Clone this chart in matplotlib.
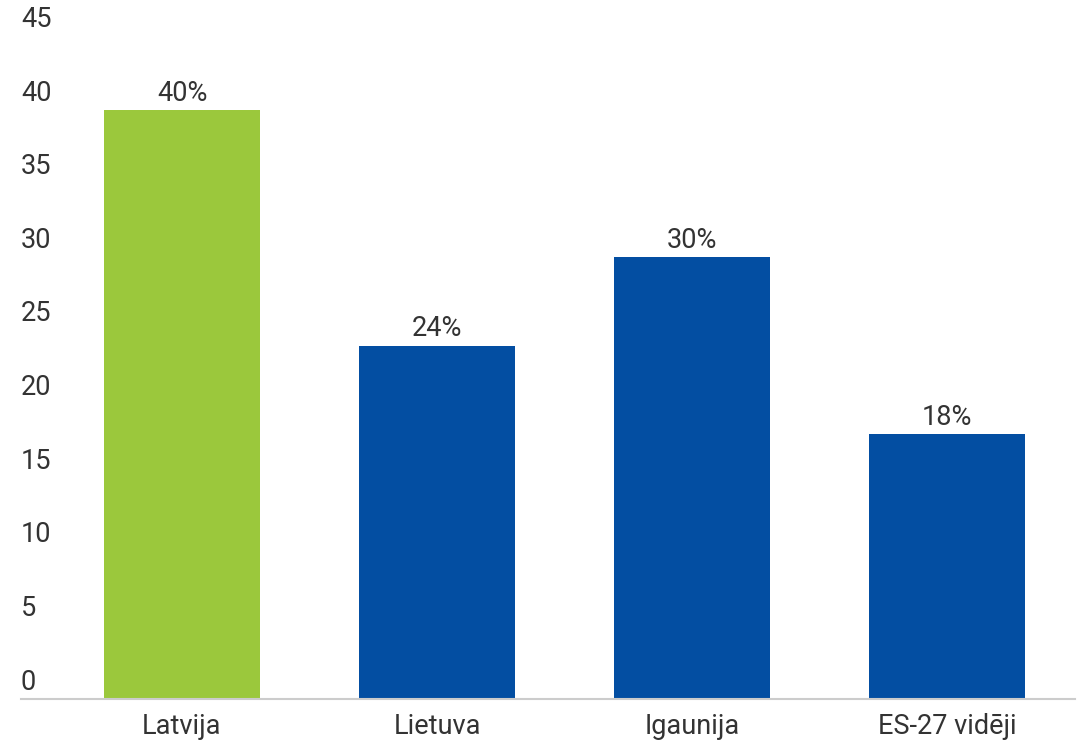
import matplotlib
matplotlib.use("Agg")
import matplotlib.pyplot as plt

categories = ["Latvija", "Lietuva", "Igaunija", "ES-27 vidēji"]
values = [40, 24, 30, 18]
value_labels = ["40%", "24%", "30%", "18%"]
colors = ["#9BC83C", "#034EA2", "#034EA2", "#034EA2"]
y_ticks = [0, 5, 10, 15, 20, 25, 30, 35, 40, 45]

plt.rcParams['font.family'] = ['Roboto', 'DejaVu Sans']
TEXT = "#333333"
FS = 19.5

W, H = 1081, 745
fig = plt.figure(figsize=(W / 100, H / 100), dpi=100)
left, right = 54.5, 1074.5
top, bottom = 36.5, 699
ax = fig.add_axes([left / W, 1 - bottom / H, (right - left) / W, (bottom - top) / H])

x = list(range(len(categories)))
ax.bar(x, values, width=0.61, color=colors, zorder=2)
ax.set_xlim(-0.5, len(categories) - 0.5)
ax.set_ylim(0, 45)

for s in ax.spines.values():
    s.set_visible(False)
ax.set_yticks([])
ax.set_xticks(x)
ax.set_xticklabels(categories, fontsize=FS, color=TEXT)
ax.tick_params(axis='x', length=0, pad=10)

# baseline
lx = (21 - left) / (right - left)
ax.plot([lx, 1], [0, 0], transform=ax.transAxes,
        color="#cccccc", lw=1.5, clip_on=False, zorder=3)

# y labels above their level
for v in y_ticks:
    ax.annotate(str(v), xy=(lx, v), xycoords=ax.get_yaxis_transform(),
                xytext=(0, 12.2), textcoords='offset points', ha='left', va='center',
                fontsize=FS, color=TEXT, annotation_clip=False)

for xi, v, lab in zip(x, values, value_labels):
    ax.annotate(lab, xy=(xi, v), xytext=(0, 12.2), textcoords='offset points',
                ha='center', va='center', fontsize=FS, color=TEXT)

fig.savefig("out.png", dpi=100)
